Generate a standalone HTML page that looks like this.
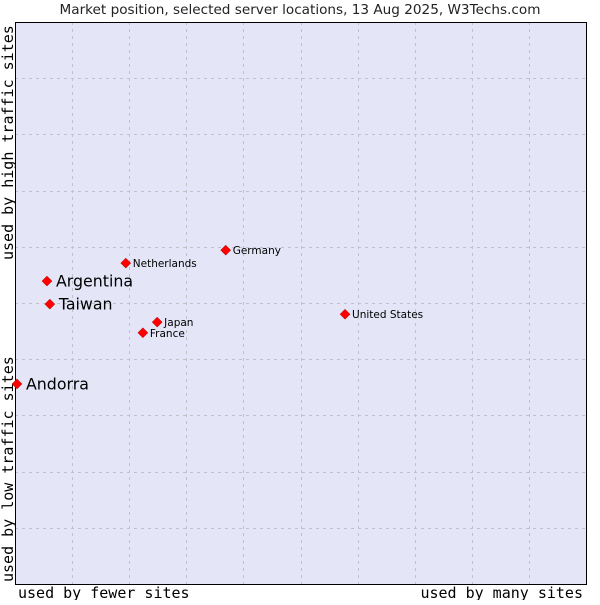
<!DOCTYPE html>
<html><head><meta charset="utf-8"><style>
body{margin:0;background:#fff;}
svg text{font-family:"DejaVu Sans","Liberation Sans",sans-serif;}
.mono{font-family:"DejaVu Sans Mono","Liberation Mono",monospace;}
</style></head><body>
<svg id="chart" width="600" height="600" xmlns="http://www.w3.org/2000/svg">
<text x="300" y="14" text-anchor="middle" font-size="13.6" fill="#222">Market position, selected server locations, 13 Aug 2025, W3Techs.com</text>
<rect x="15" y="22" width="571" height="562" fill="#e4e5f7"/>
<g id="grid"></g>
<path d="M15.5,22 V584.5 H586.5 V22" fill="none" stroke="#000" stroke-width="1"/>
<path d="M15,22.5 H586" fill="none" stroke="#000" stroke-width="1"/>
<text class="mono" x="18" y="598" font-size="15" fill="#000">used by fewer sites</text>
<text class="mono" x="583" y="598" font-size="15" fill="#000" text-anchor="end">used by many sites</text>
<text class="mono" transform="translate(13,582) rotate(-90)" font-size="15" fill="#000">used by low traffic sites</text>
<text class="mono" transform="translate(13,260) rotate(-90)" font-size="15" fill="#000">used by high traffic sites</text>
<g id="points"></g>
</svg>
<script>
const countries=["Andorra","Argentina","Taiwan","Netherlands","Germany","Japan","France","United States"];
const xValues=[0.35,5.6,6.1,19.4,36.9,24.9,22.4,57.8];
const yValues=[35.6,53.9,49.8,57.1,59.4,46.6,44.7,48.0];
const highlighted=[true,true,true,false,false,false,false,false];
const ns="http://www.w3.org/2000/svg";
const X0=15,X1=586,Y0=584,Y1=22;
const sx=v=>X0+v/100*(X1-X0);
const sy=v=>Y0-v/100*(Y0-Y1);
const grid=document.getElementById('grid');
for(let i=1;i<10;i++){
  const gx=document.createElementNS(ns,'line');
  const xx=Math.round(sx(i*10))+0.5;
  gx.setAttribute('x1',xx);gx.setAttribute('x2',xx);gx.setAttribute('y1',Y1);gx.setAttribute('y2',Y0);
  gx.setAttribute('stroke','#c0c0c8');gx.setAttribute('stroke-dasharray','3,4');
  
  
  grid.appendChild(gx);
  const gy=document.createElementNS(ns,'line');
  const yy=Math.round(sy(i*10))+0.5;
  gy.setAttribute('x1',X0);gy.setAttribute('x2',X1);gy.setAttribute('y1',yy);gy.setAttribute('y2',yy);
  gy.setAttribute('stroke','#c0c0c8');gy.setAttribute('stroke-dasharray','3,4');
  
  
  grid.appendChild(gy);
}
const pts=document.getElementById('points');
countries.forEach((c,i)=>{
  const px=sx(xValues[i]),py=sy(yValues[i]);
  const d=document.createElementNS(ns,'path');
  d.setAttribute('d',`M${px},${py-5}L${px+5},${py}L${px},${py+5}L${px-5},${py}Z`);
  d.setAttribute('fill','#ff0000');d.setAttribute('stroke','#b00000');d.setAttribute('stroke-width','0.5');
  
  
  pts.appendChild(d);
  const t=document.createElementNS(ns,'text');
  const big=highlighted[i];
  t.setAttribute('x',px+(big?9:7));t.setAttribute('y',py+(big?5.5:4));
  t.setAttribute('font-size',big?'15.8':'10.5');t.setAttribute('fill','#000');
  t.textContent=c;
  
  
  pts.appendChild(t);
});
</script>
</body></html>
